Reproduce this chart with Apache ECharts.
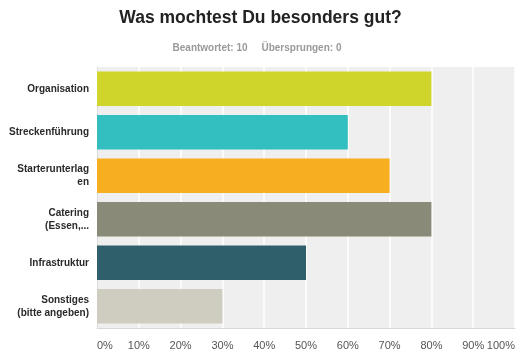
<!DOCTYPE html>
<html><head><meta charset="utf-8">
<script src="https://cdn.jsdelivr.net/npm/echarts@6/dist/echarts.min.js"></script>
<style>html,body{margin:0;padding:0;background:#fff}#c{width:521px;height:353px}</style>
</head><body><div id="c"></div>
<script>
const categories = ["Organisation", "Streckenführung", "Starterunterlag\nen", "Catering\n(Essen,...", "Infrastruktur", "Sonstiges\n(bitte angeben)"];
const values = [80, 60, 70, 80, 50, 30];
const colors = ["#cfd52b", "#33bebf", "#f7ae20", "#8a8a78", "#2e5f6b", "#cfcdbf"];
const tickValues = [0, 10, 20, 30, 40, 50, 60, 70, 80, 90, 100];

const chart = echarts.init(document.getElementById('c'));
chart.setOption({
  animation: false,
  title: [{
    text: "Was mochtest Du besonders gut?",
    left: 'center', top: 4,
    textStyle: {fontFamily: 'Liberation Sans', fontSize: 17.5, fontWeight: 'bold', color: '#222'}
  }, {
    text: "Beantwortet: 10     Übersprungen: 0",
    left: 252, top: 38, textAlign: 'center',
    textStyle: {fontFamily: 'Liberation Sans', fontSize: 10, fontWeight: 'bold', color: '#999'}
  }],
  grid: {left: 97, right: 6, top: 67, bottom: 25, show: true, backgroundColor: '#efefef', borderWidth: 0, outerBoundsMode: 'none', containLabel: false},
  xAxis: {
    type: 'value', min: 0, max: 100, interval: 10,
    axisLine: {show: true, lineStyle: {color: '#d8d8d8', width: 1}},
    axisTick: {show: false},
    splitLine: {show: true, lineStyle: {color: '#ffffff', width: 1.5}},
    axisLabel: {formatter: v => tickValues.includes(v) ? v + '%' : '', margin: 12, color: '#555', fontFamily: 'Liberation Sans', fontSize: 11,
      alignMinLabel: 'left', alignMaxLabel: 'right'}
  },
  yAxis: {
    type: 'category', inverse: true, data: categories,
    axisLine: {show: true, lineStyle: {color: '#dcdcdc'}},
    axisTick: {show: false},
    axisLabel: {margin: 8, color: '#2a2a2a', fontFamily: 'Liberation Sans', fontSize: 10, fontWeight: 'bold', lineHeight: 13, align: 'right'}
  },
  series: [{
    type: 'bar', barCategoryGap: '21%',
    data: values.map((v, i) => ({value: v, itemStyle: {color: colors[i]}}))
  }]
});
</script></body></html>
